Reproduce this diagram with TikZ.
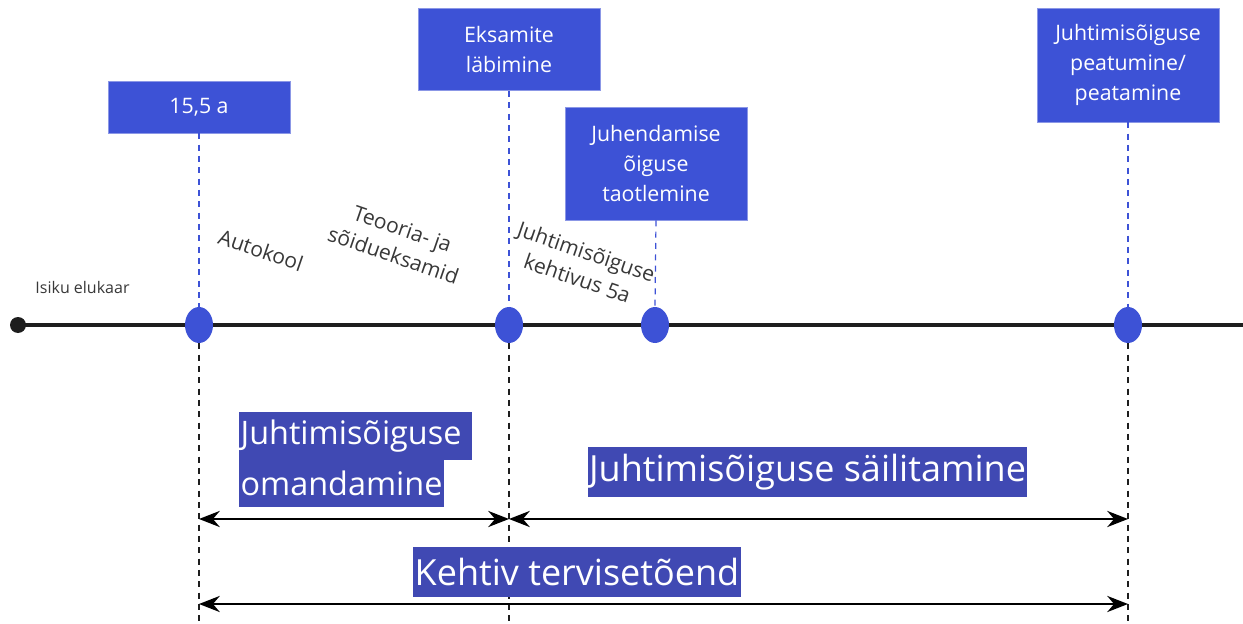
\documentclass[tikz,border=0pt]{standalone}
\usepackage{fontspec}
\setmainfont{Open Sans}
\usetikzlibrary{arrows.meta,shapes.geometric}
\definecolor{boxblue}{HTML}{3D52D6}
\definecolor{hlblue}{HTML}{4049B3}
\definecolor{linegray}{HTML}{1E1E1E}
\definecolor{txtgray}{HTML}{383838}
\tikzset{
  evbox/.style={fill=boxblue, draw=boxblue!60!white, line width=0.5pt, text=white, align=center, minimum width=136.5pt, inner sep=0pt, font=\fontsize{16}{22.5}\selectfont},
  evdot/.style={ellipse, fill=boxblue, minimum width=21pt, minimum height=27pt, inner sep=0pt},
  bluedash/.style={draw=boxblue, line width=0.9pt, dash pattern=on 4.5pt off 4pt},
  blackdash/.style={draw=linegray, line width=0.9pt, dash pattern=on 4.5pt off 4pt},
  span/.style={draw=black, line width=2.2pt, {Stealth[length=15.5pt,width=12pt]}-{Stealth[length=15.5pt,width=12pt]}},
  hl/.style={fill=hlblue, text=white, inner xsep=1pt, inner ysep=0pt, font=\fontsize{27}{30}\selectfont, anchor=west},
  hlsmall/.style={hl, font=\fontsize{24.3}{28}\selectfont},
  slant/.style={text=txtgray, rotate=-19, align=center, font=\fontsize{15.8}{21}\selectfont}
}
\begin{document}
\begin{tikzpicture}[x=0.75pt,y=-0.75pt]
\useasboundingbox (0,0) rectangle (1243,624);
% main line
\node[circle, fill=linegray, minimum size=12pt, inner sep=0pt] (start) at (18,325) {};
\coordinate (lineend) at (1243,325);
\draw[linegray, line width=3pt] (start.center) -- (lineend);
\node[text=txtgray, font=\fontsize{12}{14}\selectfont] (elu) at (82.5,287) {Isiku elukaar};
% boxes
\node[evbox, minimum height=39pt] (b1) at (199,107) {15,5 a};
\node[evbox, minimum height=62pt] (b2) at (509,49.5) {Eksamite\\läbimine};
\node[evbox, minimum height=84.75pt] (b3) at (656,163.5) {Juhendamise\\õiguse\\taotlemine};
\node[evbox, minimum height=85.5pt] (b4) at (1128,65) {Juhtimisõiguse\\peatumine/\\peatamine};
% event ellipses
\node[evdot] (e1) at (199,325) {};
\node[evdot] (e2) at (509,325) {};
\node[evdot] (e3) at (655,325) {};
\node[evdot] (e4) at (1128,325) {};
% blue dashed
\draw[bluedash] (b1.south) -- (e1.north);
\draw[bluedash] (b2.south) -- (e2.north);
\draw[bluedash] (b3.south) -- (e3.north);
\draw[bluedash] (b4.south) -- (e4.north);
% black dashed
\coordinate (d1) at (199,624);
\coordinate (d2) at (509,624);
\coordinate (d4) at (1128,624);
\draw[blackdash] (e1.south) -- (d1);
\draw[blackdash] (e2.south) -- (d2);
\draw[blackdash] (e4.south) -- (d4);
% arrows
\coordinate (a1) at (199,519);
\coordinate (a2) at (509,519);
\coordinate (a3) at (1128,519);
\coordinate (k1) at (199,604);
\coordinate (k2) at (1128,604);
\draw[span] (a1) -- (a2);
\draw[span] (a2) -- (a3);
\draw[span] (k1) -- (k2);
% slanted labels
\node[slant] (t1) at (261,250) {Autokool};
\node[slant] (t2) at (398,242) {Teooria- ja\\sõidueksamid};
\node[slant] (t3) at (582,265) {Juhtimisõiguse\\kehtivus 5a};
% highlighted labels
\node[hlsmall, minimum height=36pt, text width=172.75pt, align=left] (h1) at (239,436) {Juhtimisõiguse};
\node[hlsmall, minimum height=35pt] (h2) at (239,483.5) {omandamine};
\node[hl, minimum height=37.5pt, anchor=center] (h3) at (807.5,472) {Juhtimisõiguse säilitamine};
\node[hl, minimum height=37.5pt, anchor=center] (h4) at (577,572) {Kehtiv tervisetõend};
\end{tikzpicture}
\end{document}
